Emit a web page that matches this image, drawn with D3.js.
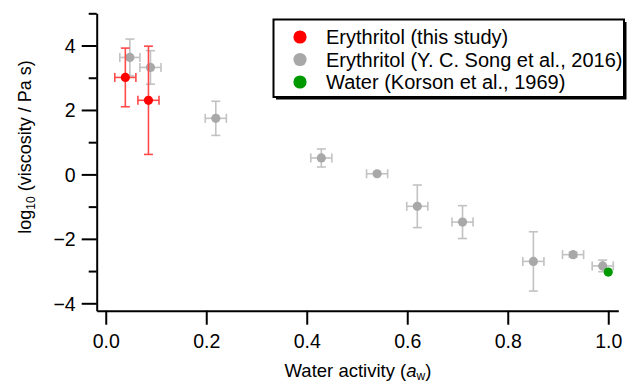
<!DOCTYPE html>
<html>
<head>
<meta charset="utf-8">
<script src="https://cdn.jsdelivr.net/npm/d3@7"></script>
<style>
  html, body { margin: 0; padding: 0; background: #fff; }
  svg { display: block; font-family: "Liberation Sans", Arial, sans-serif; }
</style>
</head>
<body>
<svg id="chart" width="628" height="383"></svg>
<script>
// Erythritol viscosity vs. water activity
const thisStudyAw    = [0.039, 0.085];
const thisStudyLogV  = [3.01, 2.30];
const thisStudyAwErr = [0.021, 0.021];
const thisStudyVErr  = [0.91, 1.68];

const songAw    = [0.048, 0.089, 0.219, 0.429, 0.540, 0.620, 0.710, 0.851, 0.930, 0.989];
const songLogV  = [3.63, 3.32, 1.74, 0.51, 0.02, -0.99, -1.48, -2.70, -2.49, -2.84];
const songAwErr = [0.020, 0.021, 0.021, 0.021, 0.021, 0.021, 0.021, 0.021, 0.021, 0.021];
const songVErr  = [0.57, 0.52, 0.53, 0.28, 0, 0.66, 0.51, 0.92, 0.08, 0.18];

const waterAw   = [1.0];
const waterLogV = [-3.03];

const xTicks = [0, 0.2, 0.4, 0.6, 0.8, 1.0];
const yMajorTicks = [-4, -2, 0, 2, 4];
const yMinorTicks = [-3, -1, 1, 3, 5];

const legendLabels = [
  "Erythritol (this study)",
  "Erythritol (Y. C. Song et al., 2016)",
  "Water (Korson et al., 1969)"
];

const colors = { study: "#ff0000", studyBar: "#ff4a4a", song: "#a8a8a8", songBar: "#c2c2c2", water: "#009a00" };

const svg = d3.select("#chart");
const x = d3.scaleLinear().domain([-0.018, 1.02]).range([96.7, 618.3]);
const y = d3.scaleLinear().domain([-4.23, 5.0]).range([310.7, 13.3]);

// axes
const xAxis = d3.axisBottom(x).tickValues(xTicks).tickFormat(d3.format(".1f")).tickSize(14).tickSizeOuter(0);
const gx = svg.append("g").attr("transform", `translate(0,${y.range()[0]})`).call(xAxis);
gx.select(".domain").attr("stroke", "#000").attr("stroke-width", 2);
gx.selectAll(".tick line").attr("stroke", "#000").attr("stroke-width", 2);
gx.selectAll(".tick text").attr("font-size", 19.5).attr("fill", "#000").attr("dy", "0.78em").attr("y", 22.5);

const yAxis = d3.axisLeft(y).tickValues(yMajorTicks).tickFormat(d3.format("d")).tickSize(15).tickSizeOuter(0);
const gy = svg.append("g").attr("transform", `translate(${x.range()[0]},0)`).call(yAxis);
gy.select(".domain").attr("stroke", "#000").attr("stroke-width", 2);
gy.selectAll(".tick line").attr("stroke", "#000").attr("stroke-width", 2);
gy.selectAll(".tick text").attr("font-size", 19.5).attr("fill", "#000").attr("x", -21).attr("dy", "0.35em");

const yMinor = d3.axisLeft(y).tickValues(yMinorTicks).tickFormat("").tickSize(8).tickSizeOuter(0);
const gym = svg.append("g").attr("transform", `translate(${x.range()[0]},0)`).call(yMinor);
gym.select(".domain").remove();
gym.selectAll(".tick line").attr("stroke", "#000").attr("stroke-width", 2);

// axis titles
const xl = svg.append("text").attr("x", (x(0) + x(1)) / 2 + 1).attr("y", 376.5)
  .attr("text-anchor", "middle").attr("font-size", 18.5).attr("fill", "#000");
xl.append("tspan").text("Water activity (");
xl.append("tspan").attr("font-style", "italic").text("a");
xl.append("tspan").attr("font-size", 12).attr("dy", 3).text("w");
xl.append("tspan").attr("dy", -3).text(")");

const yl = svg.append("text").attr("transform", `translate(31,147) rotate(-90)`)
  .attr("text-anchor", "middle").attr("font-size", 18).attr("fill", "#000");
yl.append("tspan").text("log");
yl.append("tspan").attr("font-size", 12).attr("dy", 4).text("10");
yl.append("tspan").attr("dy", -4).text(" (viscosity / Pa s)");

// error bars + markers
function series(xs, ys, xe, ye, fill, barColor) {
  const g = svg.append("g");
  const cap = 4.5;
  xs.forEach((xv, i) => {
    const cx = x(xv), cy = y(ys[i]);
    const bar = g.append("g").attr("stroke", barColor).attr("stroke-width", 1.6).attr("fill", "none");
    if (xe && xe[i] > 0) {
      const x0 = x(xv - xe[i]), x1 = x(xv + xe[i]);
      bar.append("line").attr("x1", x0).attr("x2", x1).attr("y1", cy).attr("y2", cy);
      bar.append("line").attr("x1", x0).attr("x2", x0).attr("y1", cy - cap).attr("y2", cy + cap);
      bar.append("line").attr("x1", x1).attr("x2", x1).attr("y1", cy - cap).attr("y2", cy + cap);
    }
    if (ye && ye[i] > 0) {
      const y0 = y(ys[i] + ye[i]), y1 = y(ys[i] - ye[i]);
      bar.append("line").attr("x1", cx).attr("x2", cx).attr("y1", y0).attr("y2", y1);
      bar.append("line").attr("x1", cx - cap).attr("x2", cx + cap).attr("y1", y0).attr("y2", y0);
      bar.append("line").attr("x1", cx - cap).attr("x2", cx + cap).attr("y1", y1).attr("y2", y1);
    }
  });
  g.selectAll("circle.pt").data(xs).join("circle").attr("class", "pt")
    .attr("cx", d => x(d)).attr("cy", (d, i) => y(ys[i])).attr("r", 4.6).attr("fill", fill);
}
series(songAw, songLogV, songAwErr, songVErr, colors.song, colors.songBar);
series(thisStudyAw, thisStudyLogV, thisStudyAwErr, thisStudyVErr, colors.study, colors.studyBar);
series(waterAw, waterLogV, null, null, colors.water, colors.water);

// legend
const lg = svg.append("g");
const box = { x: 273.5, y: 19.5, w: 350.5, h: 77.5 };
lg.append("rect").attr("x", box.x + 2.5).attr("y", box.y + 2.5).attr("width", box.w).attr("height", box.h).attr("fill", "#000");
lg.append("rect").attr("x", box.x).attr("y", box.y).attr("width", box.w).attr("height", box.h)
  .attr("fill", "#fff").attr("stroke", "#000").attr("stroke-width", 2);
const legendColors = [colors.study, colors.song, colors.water];
const rowY = [37, 59.5, 82];
legendLabels.forEach((t, i) => {
  lg.append("circle").attr("cx", 300).attr("cy", rowY[i]).attr("r", 6.6).attr("fill", legendColors[i]);
  lg.append("text").attr("x", 326).attr("y", rowY[i]).attr("dy", "0.36em")
    .attr("font-size", 20).attr("fill", "#000").text(t);
});
</script>
</body>
</html>
